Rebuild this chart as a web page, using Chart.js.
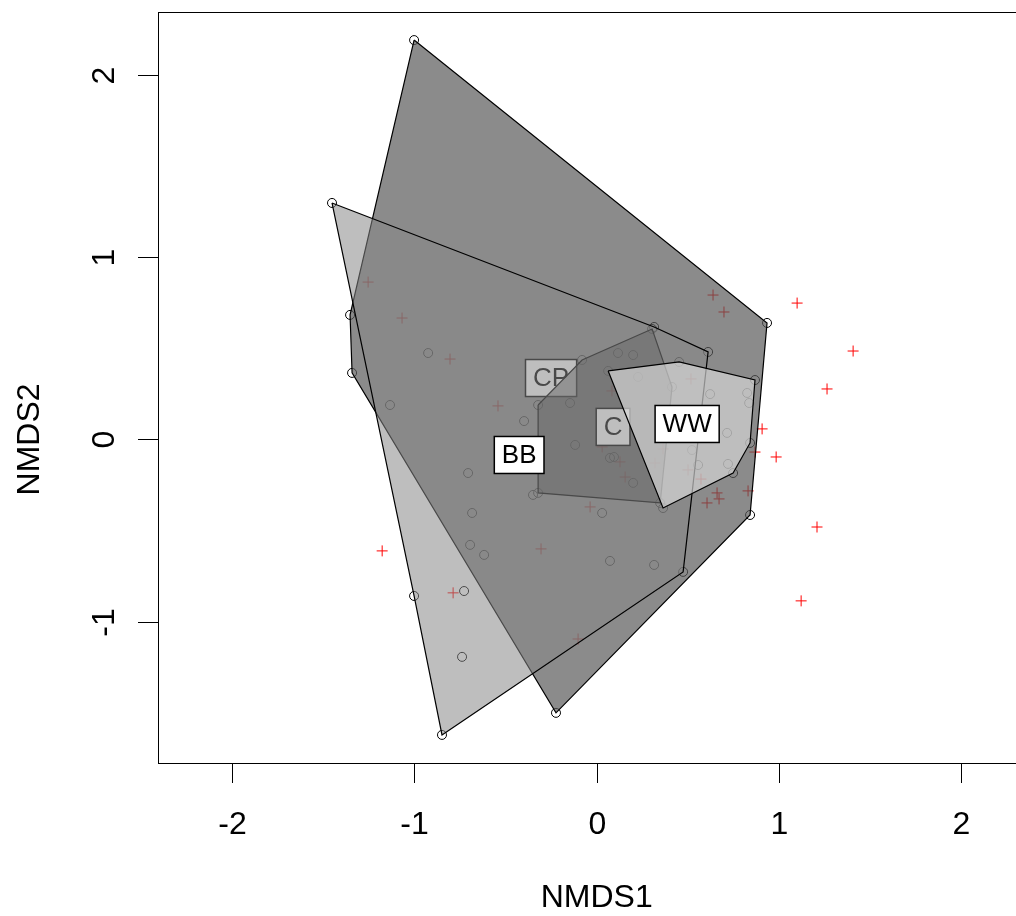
<!DOCTYPE html>
<html>
<head>
<meta charset="utf-8">
<script src="https://cdn.jsdelivr.net/npm/chart.js@4/dist/chart.umd.min.js"></script>
<style>
  html, body { margin: 0; padding: 0; background: #fff; overflow: hidden; }
</style>
</head>
<body>
<canvas id="nmdsChart" width="1016" height="916"></canvas>
<script>
// NMDS ordination: sites (circles), species (red crosses), convex hulls per group

// axis ticks
const xTicks = [-2, -1, 0, 1, 2];
const yTicks = [-1, 0, 1, 2];

// hull groups, in drawing order
const groupNames = ['CP', 'C', 'BB', 'WW'];
const labelX = [-0.250, 0.090, -0.425, 0.496];
const labelY = [0.337, 0.069, -0.085, 0.085];

// hull vertices (sites on the hull)
const cpHullX = [-1.001, 0.934, 0.841, -0.223, -1.341, -1.352];
const cpHullY = [2.190, 0.639, -0.414, -1.499, 0.365, 0.683];

const cHullX = [-0.321, -0.080, 0.304, 0.413, 0.348, -0.321];
const cHullY = [0.189, 0.436, 0.606, 0.288, -0.348, -0.293];

const bbHullX = [-1.451, 0.315, 0.611, 0.474, -0.848, -1.001];
const bbHullY = [1.297, 0.617, 0.480, -0.726, -1.620, -0.858];

const wwHullX = [0.063, 0.452, 0.868, 0.841, 0.748, 0.364];
const wwHullY = [0.376, 0.425, 0.326, -0.019, -0.184, -0.376];

// other site scores (inside the hulls)
const siteX = [-0.924, -1.133, -0.398, -0.705, -0.683, -0.694, -0.617, -0.727, -0.738,
               0.030, 0.073, 0.315, -0.146, -0.118, 0.073, 0.095, 0.200, 0.117, 0.200,
               0.227, 0.622, 0.825, 0.836, 0.715, 0.523, 0.556, 0.720, -0.349];
const siteY = [0.474, 0.189, 0.101, -0.184, -0.403, -0.578, -0.633, -0.831, -1.192,
               -0.403, -0.666, -0.688, 0.200, -0.030, -0.101, -0.096, -0.238, 0.474, 0.463,
               0.343, 0.249, 0.255, 0.200, 0.036, -0.058, -0.140, -0.134, -0.304];

// species scores
const speciesX = [-1.253, -1.067, -0.804, -0.541, -1.176, -0.787, -0.305, -0.102,
                  0.084, 0.030, 0.128, 0.156, -0.036, 0.517, 0.364, 0.320, 0.501, 0.572,
                  0.660, 0.671, 0.605, 0.638, 0.698, 1.099, 1.406, 1.263, 0.907, 0.868,
                  0.984, 0.830, 1.208, 1.121];
const speciesY = [0.863, 0.666, 0.441, 0.184, -0.611, -0.841, -0.600, -1.094,
                  0.266, -0.041, -0.123, -0.206, -0.370, 0.332, -0.052, -0.129, -0.167, -0.217,
                  -0.293, -0.326, -0.348, 0.792, 0.699, 0.748, 0.485, 0.277, 0.058, -0.069,
                  -0.096, -0.282, -0.480, -0.885];

const FONT = '"Liberation Sans", Arial, sans-serif';

function toPoints(xs, ys) {
    return xs.map((x, i) => ({ x: x, y: ys[i] }));
}

function closed(xs, ys) {
    const pts = toPoints(xs, ys);
    pts.push({ x: xs[0], y: ys[0] });
    return pts;
}

function hullDataset(xs, ys, fillColor, group, order) {
    return {
        data: closed(xs, ys),
        showLine: true,
        fill: 'shape',
        backgroundColor: fillColor,
        borderColor: '#000',
        borderWidth: 1.2,
        tension: 0,
        pointRadius: 0,
        pointHoverRadius: 0,
        order: order,
        group: group
    };
}

// all site points, hull vertices included
const allSiteX = siteX.concat(cpHullX, cHullX, bbHullX, wwHullX);
const allSiteY = siteY.concat(cpHullY, cHullY, bbHullY, wwHullY);

function drawGroupLabel(chart, group) {
    const ctx = chart.ctx;
    const px = chart.scales.x.getPixelForValue(labelX[group]);
    const py = chart.scales.y.getPixelForValue(labelY[group]);
    const text = groupNames[group];
    ctx.save();
    ctx.font = '26px ' + FONT;
    const w = ctx.measureText(text).width + 15;
    const h = 37;
    ctx.fillStyle = '#fff';
    ctx.fillRect(px - w / 2, py - h / 2, w, h);
    ctx.strokeStyle = '#000';
    ctx.lineWidth = 1.5;
    ctx.strokeRect(px - w / 2, py - h / 2, w, h);
    ctx.fillStyle = '#000';
    ctx.textAlign = 'center';
    ctx.textBaseline = 'middle';
    ctx.fillText(text, px, py + 1);
    ctx.restore();
}

// labels go on right after their own hull, so later hulls cover them
const hullLabels = {
    id: 'hullLabels',
    afterDatasetDraw(chart, args) {
        const ds = chart.data.datasets[args.index];
        if (ds.group !== undefined) {
            drawGroupLabel(chart, ds.group);
        }
    }
};

// base-graphics style box, ticks and titles
const plotFrame = {
    id: 'plotFrame',
    afterDraw(chart) {
        const ctx = chart.ctx;
        const area = chart.chartArea;
        const xs = chart.scales.x;
        const ys = chart.scales.y;
        ctx.save();
        ctx.strokeStyle = '#000';
        ctx.lineWidth = 1;
        ctx.strokeRect(area.left + 0.5, area.top + 0.5, area.right - area.left + 20, area.bottom - area.top);

        ctx.fillStyle = '#000';
        ctx.font = '32px ' + FONT;
        ctx.textAlign = 'center';
        ctx.textBaseline = 'middle';

        xTicks.forEach(v => {
            const px = Math.round(xs.getPixelForValue(v)) + 0.5;
            ctx.beginPath();
            ctx.moveTo(px, area.bottom);
            ctx.lineTo(px, area.bottom + 20);
            ctx.stroke();
            ctx.fillText(String(v), px, area.bottom + 62);
        });

        yTicks.forEach(v => {
            const py = Math.round(ys.getPixelForValue(v)) + 0.5;
            ctx.beginPath();
            ctx.moveTo(area.left, py);
            ctx.lineTo(area.left - 20, py);
            ctx.stroke();
            ctx.save();
            ctx.translate(area.left - 53, py);
            ctx.rotate(-Math.PI / 2);
            ctx.fillText(String(v), 0, 0);
            ctx.restore();
        });

        ctx.fillText('NMDS1', xs.getPixelForValue(0), 898);
        ctx.save();
        ctx.translate(30, ys.getPixelForValue(0));
        ctx.rotate(-Math.PI / 2);
        ctx.fillText('NMDS2', 0, 0);
        ctx.restore();
        ctx.restore();
    }
};

const ctx = document.getElementById('nmdsChart').getContext('2d');
new Chart(ctx, {
    type: 'scatter',
    data: {
        datasets: [
            hullDataset(wwHullX, wwHullY, 'rgba(220, 220, 220, 0.64)', 3, 0),
            hullDataset(bbHullX, bbHullY, 'rgba(135, 135, 135, 0.54)', 2, 1),
            hullDataset(cHullX, cHullY, 'rgba(70, 70, 70, 0.5)', 1, 2),
            hullDataset(cpHullX, cpHullY, 'rgba(90, 90, 90, 0.7)', 0, 3),
            {
                data: toPoints(allSiteX, allSiteY),
                pointStyle: 'circle',
                pointRadius: 4.5,
                pointBorderWidth: 1,
                pointBorderColor: '#000',
                pointBackgroundColor: 'rgba(0,0,0,0)',
                order: 4
            },
            {
                data: toPoints(speciesX, speciesY),
                pointStyle: 'cross',
                pointRadius: 5.5,
                pointBorderWidth: 1,
                pointBorderColor: '#ff0000',
                order: 5
            }
        ]
    },
    options: {
        responsive: false,
        animation: false,
        devicePixelRatio: 1,
        events: [],
        layout: { autoPadding: false, padding: { left: 158, top: 12, right: 0, bottom: 153 } },
        scales: {
            x: { type: 'linear', min: -2.405, max: 2.299, display: false },
            y: { type: 'linear', min: -1.774, max: 2.344, display: false }
        },
        plugins: {
            legend: { display: false },
            tooltip: { enabled: false }
        }
    },
    plugins: [hullLabels, plotFrame]
});
</script>
</body>
</html>
